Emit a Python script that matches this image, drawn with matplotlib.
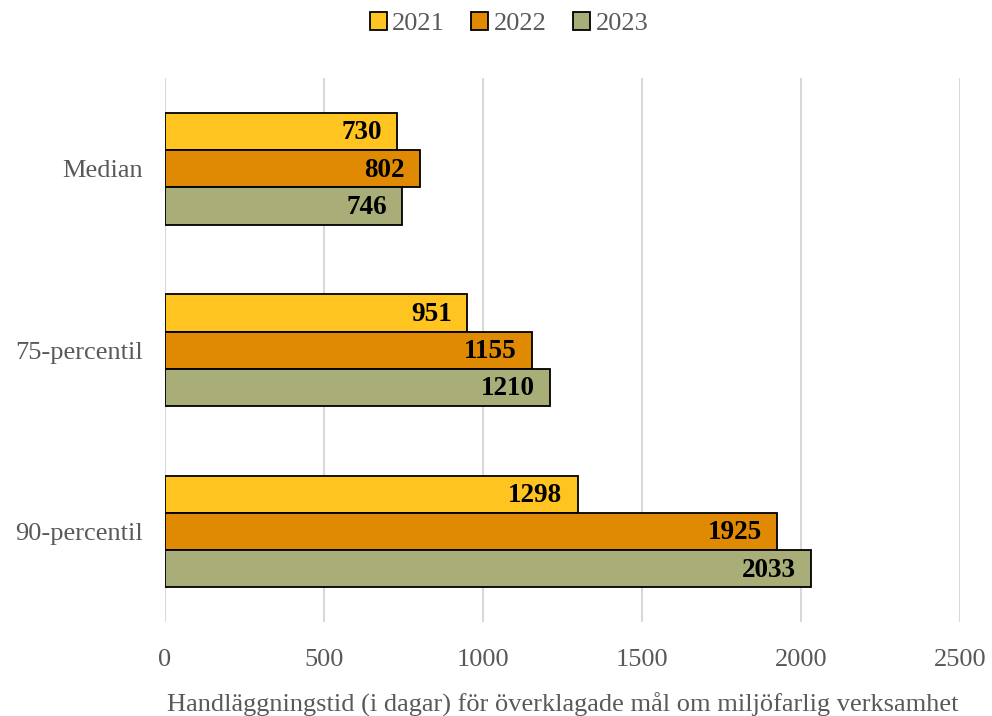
import matplotlib.pyplot as plt
import numpy as np

plt.rcParams['font.family'] = ['Liberation Serif', 'DejaVu Serif']

categories = ['Median', '75-percentil', '90-percentil']
years = ['2021', '2022', '2023']
values_2021 = [730, 951, 1298]
values_2022 = [802, 1155, 1925]
values_2023 = [746, 1210, 2033]

colors = ['#FFC420', '#E08A04', '#A9AD77']
series = [values_2021, values_2022, values_2023]

fig = plt.figure(figsize=(9.92, 7.16), dpi=100)
ax = fig.add_axes([0.1663, 0.131, 0.8014, 0.76])

y = np.arange(len(categories))
h = 0.205
for i, (vals, col, yr) in enumerate(zip(series, colors, years)):
    pos = y + (i - 1) * h
    bars = ax.barh(pos, vals, height=h, color=col, edgecolor='black', linewidth=1.3, label=yr, zorder=3)
    for b, v in zip(bars, vals):
        ax.annotate(str(v), (v, b.get_y() + b.get_height() / 2), xytext=(-11, -1),
                    textcoords='offset points', ha='right', va='center',
                    fontsize=19.5, fontweight='bold', color='black', zorder=4)

ax.set_xlim(0, 2500)
ax.set_ylim(2.5, -0.5)
ax.set_xticks(np.arange(0, 2501, 500))
ax.set_yticks(y)
ax.set_yticklabels(categories)
ax.grid(axis='x', color='#D9D9D9', linewidth=1.5, zorder=0)
for s in ax.spines.values():
    s.set_visible(False)
ax.tick_params(axis='both', length=0, labelsize=19, labelcolor='#595959')
ax.tick_params(axis='x', pad=19)
ax.tick_params(axis='y', pad=16)
ax.set_xlabel('Handläggningstid (i dagar) för överklagade mål om miljöfarlig verksamhet',
              fontsize=19, color='#595959', labelpad=16)

fig.legend(*ax.get_legend_handles_labels(), loc='center', bbox_to_anchor=(0.513, 0.967), ncol=3,
           frameon=False, fontsize=19, labelcolor='#595959', handlelength=0.65, handleheight=0.65,
           handletextpad=0.2, columnspacing=1.0)

fig.savefig('out.png', dpi=100)
